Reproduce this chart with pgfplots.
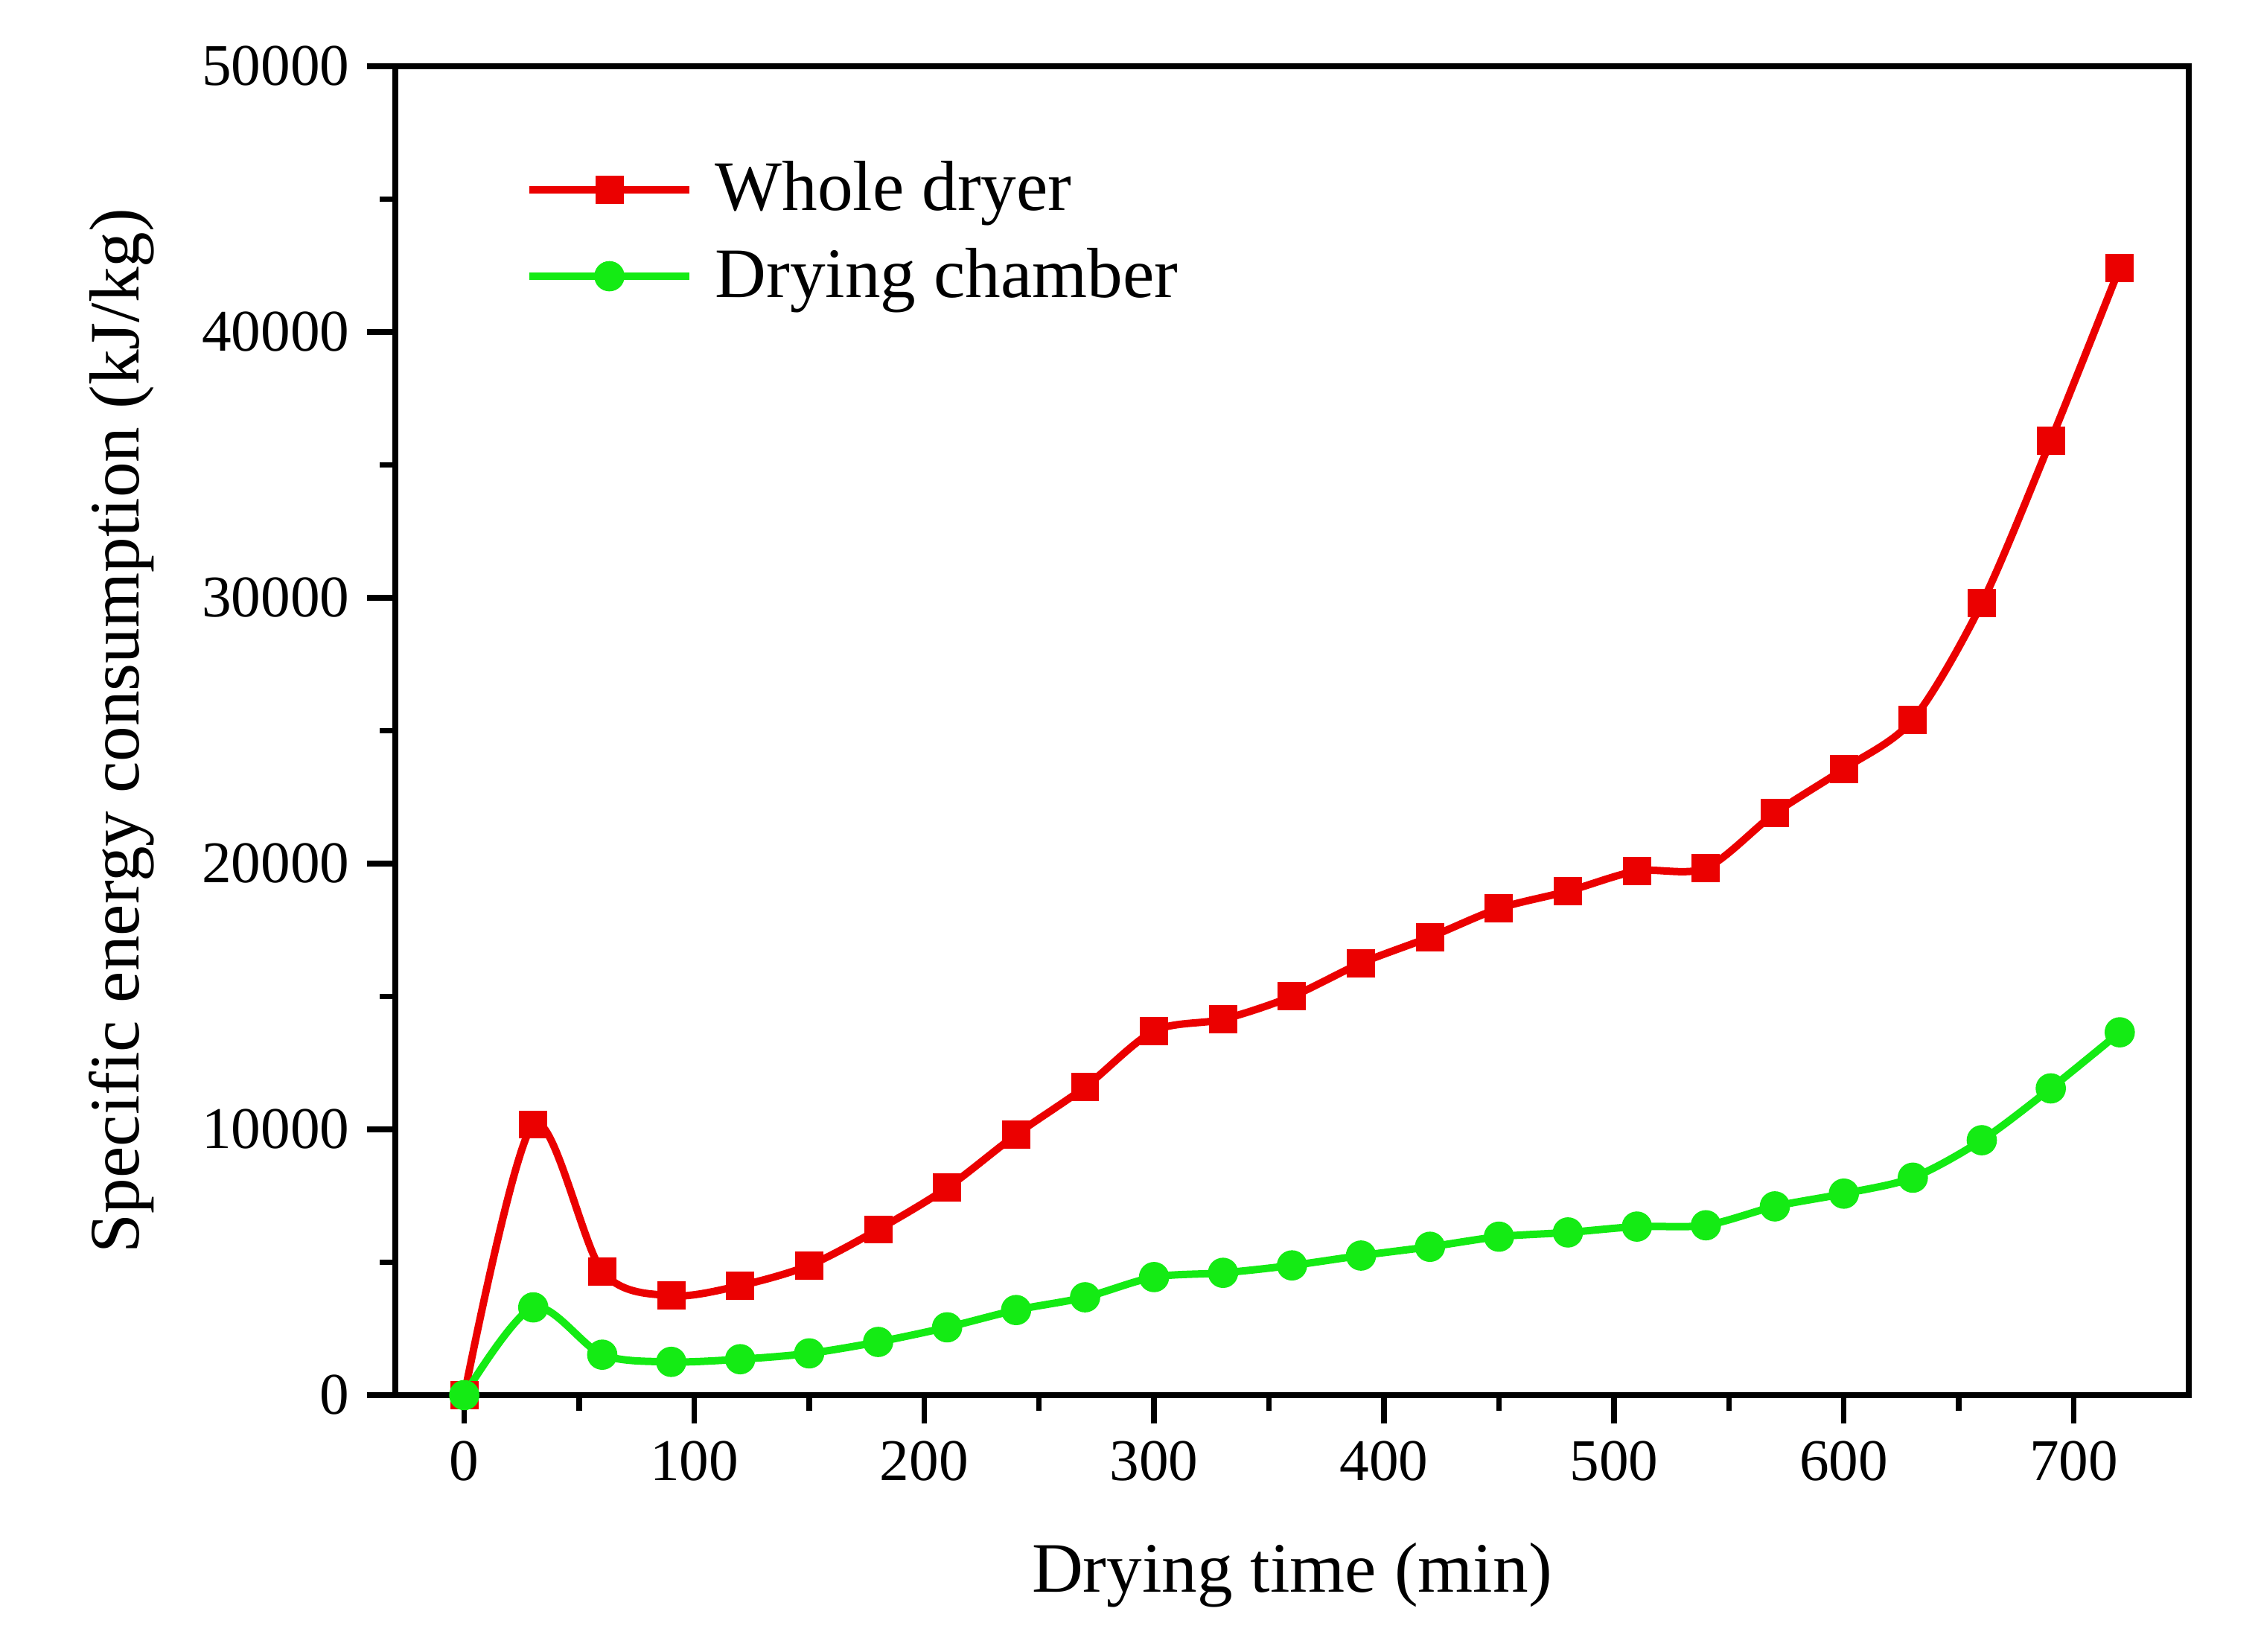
\documentclass[border=0pt]{standalone}
\usepackage{fontspec}
\setmainfont{Liberation Serif}
\usepackage{pgfplots}
\pgfplotsset{compat=1.18}
\definecolor{cred}{RGB}{235,0,0}
\definecolor{cgreen}{RGB}{20,235,20}
\begin{document}
\begin{tikzpicture}
\begin{axis}[
  width=12.708cm, height=9.416cm, scale only axis,
  xmin=-30, xmax=750, ymin=0, ymax=50000,
  xtick={0,100,...,700}, ytick={0,10000,...,50000},
  minor x tick num=1, minor y tick num=1,
  tick align=outside, xtick pos=bottom, ytick pos=left,
  major tick length=0.2cm, minor tick length=0.11cm,
  every tick/.style={black, line width=1.1pt},
  axis line style={line width=1.3pt},
  scaled ticks=false,
  /pgf/number format/1000 sep={},
  /pgf/number format/assume math mode=true,
  ticklabel style={font=\fontsize{11.9}{14}\selectfont},
  xlabel={Drying time (min)},
  ylabel={Specific energy consumption (kJ/kg)},
  label style={font=\fontsize{14.3}{17}\selectfont},
  xlabel style={at={(axis description cs:0.5,-0.1354)}, anchor=center},
  ylabel style={at={(axis description cs:-0.1526,0.5)}, anchor=center, rotate=0},
  legend style={draw=none, fill=none, at={(axis description cs:0.064,0.944)}, anchor=north west,
    font=\fontsize{14.3}{17}\selectfont, row sep=2pt, nodes={inner xsep=4.5pt}},
  legend cell align=left,
  legend image code/.code={
    \draw[#1, mark=none] (0cm,0cm) -- (1.13cm,0cm);
    \draw[#1, only marks] plot coordinates {(0.565cm,0cm)};
  },
]
\addplot[cred, line width=1.5pt, smooth, tension=0.5, mark=square*, mark size=2.1pt, mark options={solid}] coordinates {
(0,0) (30,10180) (60,4660) (90,3740) (120,4120) (150,4880) (180,6230) (210,7800)
(240,9800) (270,11590) (300,13700) (330,14140) (360,15000) (390,16250) (420,17230)
(450,18310) (480,18960) (510,19720) (540,19830) (570,21890) (600,23560) (630,25410)
(660,29790) (690,35920) (720,42420)};
\addlegendentry{Whole dryer}
\addplot[cgreen, line width=1.5pt, smooth, tension=0.5, mark=*, mark size=2.3pt, mark options={solid}] coordinates {
(0,0) (30,3300) (60,1520) (90,1250) (120,1350) (150,1570) (180,2000) (210,2550)
(240,3200) (270,3680) (300,4440) (330,4600) (360,4880) (390,5250) (420,5580)
(450,5960) (480,6120) (510,6340) (540,6390) (570,7100) (600,7580) (630,8180)
(660,9590) (690,11540) (720,13650)};
\addlegendentry{Drying chamber}
\end{axis}
\pgfresetboundingbox
\path ([shift={(-2.801cm,-1.820cm)}]current axis.south west) rectangle ([shift={(0.491cm,0.4695cm)}]current axis.north east);
\end{tikzpicture}
\end{document}
